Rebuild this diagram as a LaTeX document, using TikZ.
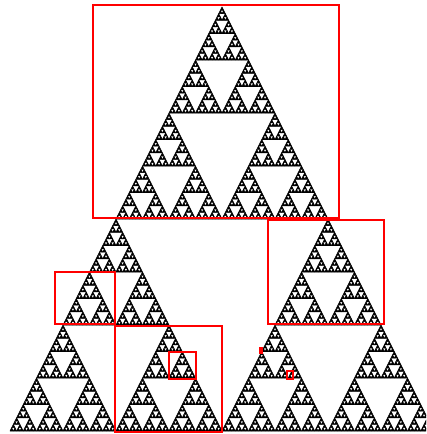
\documentclass[tikz,border=0pt]{standalone}

% -- Sierpinski recursion: depth, left x, base y, width, height --
\newcommand\sierpin[5]{%
  \ifnum#1=0
    \filldraw[gasket] (#2,#3) -- ++(#4,0) -- ++(-#4/2,-#5) -- cycle;
  \else
    \begingroup
    \pgfmathtruncatemacro\sdepth{#1-1}%
    \pgfmathsetmacro\sw{#4/2}\pgfmathsetmacro\sh{#5/2}%
    \pgfmathsetmacro\sxr{#2+#4/2}\pgfmathsetmacro\sxm{#2+#4/4}%
    \pgfmathsetmacro\syt{#3-#5/2}%
    \edef\sierpnext{\noexpand\sierpin{\sdepth}{#2}{#3}{\sw}{\sh}%
      \noexpand\sierpin{\sdepth}{\sxr}{#3}{\sw}{\sh}%
      \noexpand\sierpin{\sdepth}{\sxm}{\syt}{\sw}{\sh}}%
    \sierpnext
    \endgroup
  \fi}

\tikzset{
  gasket/.style={fill=black, draw=black, line width=0.45pt, line join=round},
  zoombox/.style={draw=red, line width=1.3pt}
}

\begin{document}
\begin{tikzpicture}[x=0.3mm, y=-0.3mm]

  % -- Frame --
  \useasboundingbox (0,0) rectangle (426,434);
  \clip (0,0) rectangle (426,434);

  % -- Gasket --
  \sierpin{7}{10}{431}{424}{424}

  % -- Zoom Boxes --
  \draw[zoombox] (93,5) rectangle (339,218);
  \draw[zoombox] (268,220) rectangle (384,324);
  \draw[zoombox] (55,272) rectangle (115,324);
  \draw[zoombox] (115,326) rectangle (222,432);
  \draw[zoombox] (169,352) rectangle (196,379);
  \draw[zoombox] (260,348) rectangle (262,353);
  \draw[zoombox] (287,371) rectangle (293,379);

\end{tikzpicture}
\end{document}
